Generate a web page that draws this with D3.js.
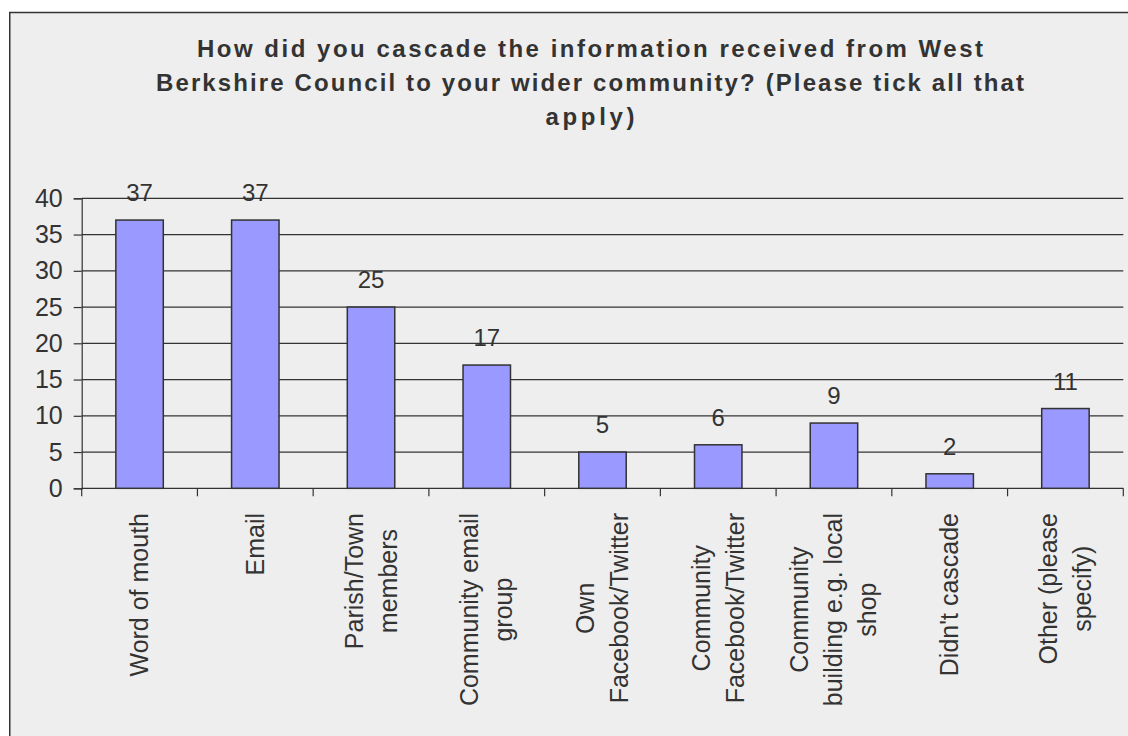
<!DOCTYPE html>
<html>
<head>
<meta charset="utf-8">
<script src="https://cdn.jsdelivr.net/npm/d3@7"></script>
<style>
  html, body { margin: 0; padding: 0; background: #ffffff; }
  svg { display: block; font-family: "Liberation Sans", Arial, sans-serif; }
</style>
</head>
<body>
<svg id="chart" width="1128" height="736"></svg>
<script>
// Survey responses: how information was cascaded to the wider community
const categories = [
  "Word of mouth",
  "Email",
  "Parish/Town members",
  "Community email group",
  "Own Facebook/Twitter",
  "Community Facebook/Twitter",
  "Community building e.g. local shop",
  "Didn't cascade",
  "Other (please specify)"
];
// Line breaks used for the rotated category labels
const categoryLines = [
  ["Word of mouth"],
  ["Email"],
  ["Parish/Town", "members"],
  ["Community email", "group"],
  ["Own", "Facebook/Twitter"],
  ["Community", "Facebook/Twitter"],
  ["Community", "building e.g. local", "shop"],
  ["Didn't cascade"],
  ["Other (please", "specify)"]
];
const responses = [37, 37, 25, 17, 5, 6, 9, 2, 11];
const yTicks = [0, 5, 10, 15, 20, 25, 30, 35, 40];
const titleLines = [
  "How did you cascade the information received from West",
  "Berkshire Council to your wider community? (Please tick all that",
  "apply)"
];

const svg = d3.select("#chart");
const W = 1128, H = 736;
const plot = { left: 81.7, right: 1123.3, top: 198.3, bottom: 488.3 };
const ink = "#333333";

// Chart area panel
svg.append("rect")
  .attr("x", 9.75).attr("y", 12.5)
  .attr("width", W + 20).attr("height", H + 20)
  .attr("fill", "#eeeeee")
  .attr("stroke", ink).attr("stroke-width", 1.5);

// Title
const titleWidths = [786, 868, 89];
const titleBaselines = [56.5, 90.8, 125];
svg.append("g").selectAll("text")
  .data(titleLines)
  .join("text")
  .attr("x", 590)
  .attr("y", (d, i) => titleBaselines[i])
  .attr("text-anchor", "middle")
  .attr("font-size", 24)
  .attr("font-weight", "bold")
  .attr("fill", ink)
  .attr("textLength", (d, i) => titleWidths[i])
  .attr("lengthAdjust", "spacing")
  .text(d => d);

// Scales
const x = d3.scaleBand().domain(categories).range([plot.left, plot.right]).padding(0);
const xBar = d3.scaleBand().domain(categories).range([plot.left, plot.right])
  .paddingInner(0.59).paddingOuter(0.295);
const y = d3.scaleLinear().domain([0, 40]).range([plot.bottom, plot.top]);

// Horizontal gridlines
svg.append("g").selectAll("line")
  .data(yTicks)
  .join("line")
  .attr("x1", plot.left).attr("x2", plot.right)
  .attr("y1", d => y(d)).attr("y2", d => y(d))
  .attr("stroke", ink).attr("stroke-width", 1.2);

// Y axis
const yAxis = svg.append("g")
  .attr("transform", `translate(${plot.left},0)`)
  .call(d3.axisLeft(y).tickValues(yTicks).tickSize(8).tickPadding(11).tickFormat(d3.format("d")));
yAxis.select(".domain").attr("stroke", ink).attr("stroke-width", 1.2);
yAxis.selectAll(".tick line").attr("stroke", ink).attr("stroke-width", 1.2);
yAxis.selectAll(".tick text")
  .attr("fill", ink)
  .attr("font-size", 25)
  .attr("font-family", "Liberation Sans, Arial, sans-serif");

// Category tick marks at band boundaries
const boundaries = categories.map(c => x(c)).concat([plot.right]);
svg.append("g").selectAll("line")
  .data(boundaries)
  .join("line")
  .attr("x1", d => d).attr("x2", d => d)
  .attr("y1", plot.bottom).attr("y2", plot.bottom + 8)
  .attr("stroke", ink).attr("stroke-width", 1.2);

// Bars
svg.append("g").selectAll("rect")
  .data(responses)
  .join("rect")
  .attr("x", (d, i) => xBar(categories[i]))
  .attr("width", xBar.bandwidth())
  .attr("y", d => y(d))
  .attr("height", d => y(0) - y(d))
  .attr("fill", "#9999ff")
  .attr("stroke", ink)
  .attr("stroke-width", 1.5);

// Value labels above bars
svg.append("g").selectAll("text")
  .data(responses)
  .join("text")
  .attr("x", (d, i) => x(categories[i]) + x.bandwidth() / 2)
  .attr("y", d => y(d) - 19)
  .attr("text-anchor", "middle")
  .attr("font-size", 24)
  .attr("fill", ink)
  .text(d => d);

// Rotated category labels, block anchored just below the axis
const labelTop = 513;
const lineGap = 34;
const labelGroups = svg.append("g").selectAll("g")
  .data(categoryLines)
  .join("g")
  .attr("transform", (d, i) => `translate(${x(categories[i]) + x.bandwidth() / 2},${labelTop}) rotate(-90)`);

labelGroups.each(function(lines) {
  const g = d3.select(this);
  const texts = g.selectAll("text")
    .data(lines)
    .join("text")
    .attr("font-size", 25)
    .attr("fill", ink)
    .attr("text-anchor", "middle")
    .text(d => d);
  let maxW = 0;
  texts.each(function() { maxW = Math.max(maxW, this.getComputedTextLength()); });
  const n = lines.length;
  texts
    .attr("x", -maxW / 2)
    .attr("y", (d, i) => 8.5 + (i - (n - 1) / 2) * lineGap);
});
</script>
</body>
</html>
